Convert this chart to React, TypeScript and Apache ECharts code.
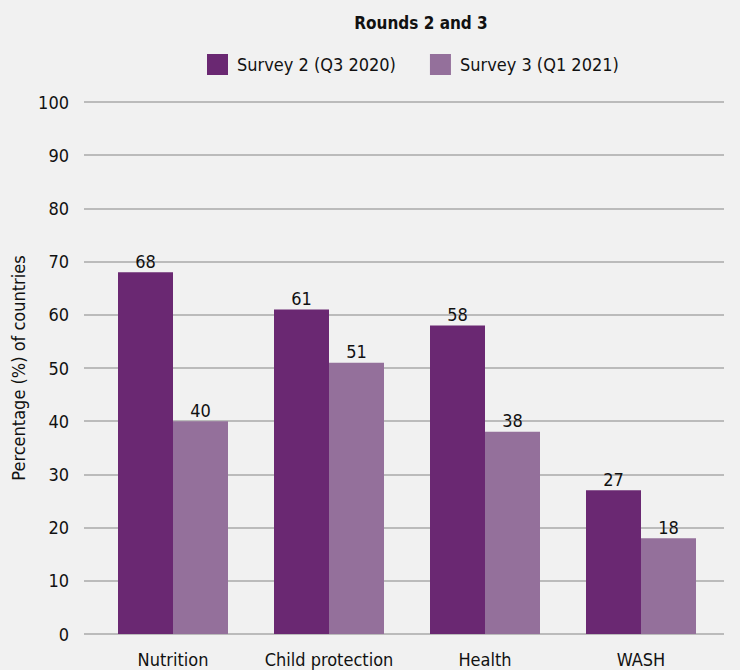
import React, { useEffect, useRef } from "react";
import * as echarts from "echarts";

const categories = ["Nutrition", "Child protection", "Health", "WASH"];
const survey2 = [68, 61, 58, 27];
const survey3 = [40, 51, 38, 18];
const seriesNames = ["Survey 2 (Q3 2020)", "Survey 3 (Q1 2021)"];
const title = "Rounds 2 and 3";
const yAxisName = "Percentage (%) of countries";

const FONT = "'DejaVu Sans Condensed', 'DejaVu Sans', sans-serif";
const DARK = "#6a2872";
const LIGHT = "#94709b";
const INK = "#111";

export default function App() {
  const ref = useRef<HTMLDivElement>(null);

  useEffect(() => {
    if (!ref.current) return;
    const chart = echarts.init(ref.current, undefined, { renderer: "svg" });
    const gridTop = 102;
    const gridBottom = 36;
    const barLabel = {
      show: true,
      position: "top",
      distance: 2,
      fontFamily: FONT,
      fontSize: 18,
      color: INK,
    };
    const option = {
      animation: false,
      backgroundColor: "#f1f1f1",
      textStyle: { fontFamily: FONT },
      title: {
        text: title,
        left: 416,
        top: 9,
        textAlign: "center",
        textStyle: { fontFamily: FONT, fontSize: 17, fontWeight: "bold", color: INK },
      },
      legend: {
        left: 202,
        top: 49,
        itemWidth: 21,
        itemHeight: 21,
        itemGap: 34,
        icon: "rect",
        data: seriesNames,
        textStyle: { fontFamily: FONT, fontSize: 18, color: INK, padding: [0, 0, 0, 4] },
      },
      grid: [
        { left: 84, right: 16, top: gridTop, bottom: gridBottom },
        { left: 95, right: 21, top: gridTop, bottom: gridBottom },
      ],
      xAxis: [
        { type: "category", gridIndex: 0, data: categories, show: false },
        {
          type: "category",
          gridIndex: 1,
          data: categories,
          axisLine: { show: false },
          axisTick: { show: false },
          axisLabel: { interval: 0, fontFamily: FONT, fontSize: 18, color: INK, margin: 16 },
        },
      ],
      yAxis: [
        {
          type: "value",
          gridIndex: 0,
          min: 0,
          max: 100,
          interval: 10,
          name: yAxisName,
          nameLocation: "middle",
          nameGap: 46,
          nameTextStyle: { fontFamily: FONT, fontSize: 18, color: INK },
          axisLine: { show: false },
          axisTick: { show: false },
          axisLabel: { fontFamily: FONT, fontSize: 18, color: INK, margin: 15 },
          splitLine: { lineStyle: { color: "#a9a9a9", width: 1.5 } },
        },
        {
          type: "value",
          gridIndex: 1,
          min: 0,
          max: 100,
          interval: 10,
          show: false,
          splitLine: { show: false },
        },
      ],
      series: [
        {
          name: seriesNames[0],
          type: "bar",
          xAxisIndex: 1,
          yAxisIndex: 1,
          data: survey2,
          barWidth: 55,
          barGap: "0%",
          itemStyle: { color: DARK },
          label: barLabel,
        },
        {
          name: seriesNames[1],
          type: "bar",
          xAxisIndex: 1,
          yAxisIndex: 1,
          data: survey3,
          barWidth: 55,
          barGap: "0%",
          itemStyle: { color: LIGHT },
          label: barLabel,
        },
      ],
    };
    chart.setOption(option);
    return () => chart.dispose();
  }, []);

  return (
    <div
      ref={ref}
      style={{ position: "fixed", left: 0, top: 0, width: 740, height: 670 }}
    />
  );
}
